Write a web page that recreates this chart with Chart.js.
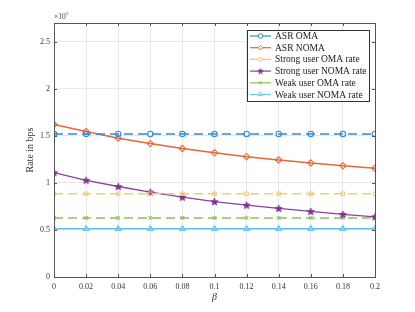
<!DOCTYPE html>
<html><head><meta charset="utf-8">
<script src="https://cdn.jsdelivr.net/npm/chart.js@4/dist/chart.umd.min.js"></script>
<style>html,body{margin:0;padding:0;background:#fff}canvas{display:block}</style>
</head><body>
<canvas id="c" width="415" height="312"></canvas>
<script>
// values in units of 10^5 bps
const beta = [0, 0.02, 0.04, 0.06, 0.08, 0.1, 0.12, 0.14, 0.16, 0.18, 0.2];
const asrOma = [1.52, 1.52, 1.52, 1.52, 1.52, 1.52, 1.52, 1.52, 1.52, 1.52, 1.52];
const asrNoma = [1.62, 1.546, 1.476, 1.418, 1.366, 1.32, 1.279, 1.244, 1.212, 1.183, 1.156];
const strongOma = [0.885, 0.885, 0.885, 0.885, 0.885, 0.885, 0.885, 0.885, 0.885, 0.885, 0.885];
const strongNoma = [1.109, 1.028, 0.962, 0.902, 0.848, 0.801, 0.764, 0.729, 0.697, 0.666, 0.640];
const weakOma = [0.628, 0.628, 0.628, 0.628, 0.628, 0.628, 0.628, 0.628, 0.628, 0.628, 0.628];
const weakNoma = [0.512, 0.512, 0.512, 0.512, 0.512, 0.512, 0.512, 0.512, 0.512, 0.512, 0.512];
const seriesNames = ['ASR OMA', 'ASR NOMA', 'Strong user OMA rate', 'Strong user NOMA rate', 'Weak user OMA rate', 'Weak user NOMA rate'];
const xTicks = [0, 0.02, 0.04, 0.06, 0.08, 0.1, 0.12, 0.14, 0.16, 0.18, 0.2];
const yTicks = [0, 0.5, 1, 1.5, 2, 2.5];

const FONT = '"Liberation Serif", "Times New Roman", serif';

function starImg(color, s) {
  const c = document.createElement('canvas');
  c.width = s; c.height = s;
  const g = c.getContext('2d');
  g.fillStyle = color; g.strokeStyle = color; g.lineWidth = 0.7;
  g.beginPath();
  const R = s / 2 - 0.6;
  for (let i = 0; i < 10; i++) {
    const r = i % 2 === 0 ? R : R * 0.42;
    const a = -Math.PI / 2 + i * Math.PI / 5;
    const x = s / 2 + r * Math.cos(a), y = s / 2 + 0.3 + r * Math.sin(a);
    if (i === 0) g.moveTo(x, y); else g.lineTo(x, y);
  }
  g.closePath(); g.fill(); g.stroke();
  return c;
}

const pts = arr => arr.map((v, i) => ({x: beta[i], y: v}));
const colors = ['#2E8DD6', '#E5683A', '#F5CB6E', '#8B3F9E', '#8CC05C', '#62C5EE'];
const styles = ['circle', 'rectRot', 'rect', starImg('#7E2F8E', 9), 'crossRot', 'triangle'];
const legendStyles = ['circle', 'rectRot', 'rect', starImg('#7E2F8E', 7), 'crossRot', 'triangle'];
const dashes = [[9, 5], [], [9, 5], [], [9, 5], []];
const radii = [2.7, 3.2, 2.4, 4.5, 2.5, 3.2];
const arrays = [asrOma, asrNoma, strongOma, strongNoma, weakOma, weakNoma];

const datasets = arrays.map((a, i) => ({
  label: seriesNames[i],
  data: pts(a),
  borderColor: colors[i],
  backgroundColor: colors[i],
  pointBackgroundColor: 'rgba(255,255,255,0)',
  pointBorderColor: colors[i],
  pointStyle: styles[i],
  pointRadius: radii[i],
  pointBorderWidth: 1.1,
  borderWidth: i === 3 ? 1.3 : 1.5,
  borderDash: dashes[i],
  tension: 0,
  fill: false
}));

const framePlugin = {
  id: 'frame',
  afterDatasetsDraw(chart) {
    const {ctx, chartArea: a, scales} = chart;
    ctx.save();
    ctx.strokeStyle = '#555';
    ctx.lineWidth = 1;
    ctx.strokeRect(Math.round(a.left) + 0.5, Math.round(a.top) + 0.5, Math.round(a.right - a.left), Math.round(a.bottom - a.top));
    ctx.beginPath();
    const tl = 3;
    xTicks.forEach(t => {
      const x = Math.round(scales.x.getPixelForValue(t)) + 0.5;
      ctx.moveTo(x, a.bottom); ctx.lineTo(x, a.bottom - tl);
      ctx.moveTo(x, a.top); ctx.lineTo(x, a.top + tl);
    });
    yTicks.forEach(t => {
      const y = Math.round(scales.y.getPixelForValue(t)) + 0.5;
      ctx.moveTo(a.left, y); ctx.lineTo(a.left + tl, y);
      ctx.moveTo(a.right, y); ctx.lineTo(a.right - tl, y);
    });
    ctx.stroke();
    // exponent label
    ctx.fillStyle = '#333';
    ctx.font = '7.5px ' + FONT;
    ctx.textBaseline = 'alphabetic';
    ctx.fillText('\u00d710', a.left, a.top - 4);
    ctx.font = '5px ' + FONT;
    ctx.fillText('5', a.left + 12, a.top - 8);

    // legend
    const lx = 247, ly = 30, lw = 122, lh = 71;
    ctx.fillStyle = '#fff';
    ctx.fillRect(lx, ly, lw, lh);
    ctx.strokeStyle = '#333';
    ctx.strokeRect(lx + 0.5, ly + 0.5, lw, lh);
    ctx.font = '9.5px ' + FONT;
    ctx.textBaseline = 'middle';
    chart.data.datasets.forEach((d, i) => {
      const cy = ly + 6 + i * 11.7;
      ctx.save();
      ctx.strokeStyle = d.borderColor;
      ctx.lineWidth = 1.2;
      ctx.beginPath();
      ctx.moveTo(250, cy); ctx.lineTo(271, cy);
      ctx.stroke();
      ctx.strokeStyle = d.pointBorderColor;
      ctx.fillStyle = '#fff';
      ctx.lineWidth = 1;
      Chart.helpers.drawPoint(ctx, {pointStyle: legendStyles[i], radius: 2.3, borderWidth: 1, rotation: 0}, 260.5, cy);
      ctx.restore();
      ctx.fillStyle = '#222';
      ctx.fillText(d.label, 275, cy + 0.5);
    });
    ctx.restore();
  }
};

new Chart(document.getElementById('c'), {
  type: 'line',
  data: {datasets},
  plugins: [framePlugin],
  options: {
    responsive: false,
    animation: false,
    events: [],
    layout: {padding: {top: 23, right: 40, left: 0, bottom: 0}},
    plugins: {legend: {display: false}, tooltip: {enabled: false}},
    scales: {
      x: {
        type: 'linear', min: 0, max: 0.2,
        afterBuildTicks: s => { s.ticks = xTicks.map(v => ({value: v})); },
        afterFit: s => { s.height = 35; },
        grid: {color: '#e8e8e8', drawTicks: false, lineWidth: 1},
        border: {display: false},
        ticks: {padding: 5, color: '#333', font: {family: FONT, size: 8}, maxRotation: 0, autoSkip: false,
          callback: v => String(v)},
        title: {display: true, text: '\u03b2', color: '#333', font: {family: FONT, size: 10, style: 'italic'}, padding: {top: 0, bottom: 9}}
      },
      y: {
        type: 'linear', min: 0, max: 2.7,
        afterBuildTicks: s => { s.ticks = yTicks.map(v => ({value: v})); },
        afterFit: s => { s.width = 54; },
        grid: {color: '#e8e8e8', drawTicks: false, lineWidth: 1},
        border: {display: false},
        ticks: {padding: 4, color: '#333', font: {family: FONT, size: 8}, callback: v => String(v)},
        title: {display: true, text: 'Rate in bps', color: '#333', font: {family: FONT, size: 10}, padding: {top: 24, bottom: 0}}
      }
    }
  }
});
</script>
</body></html>
